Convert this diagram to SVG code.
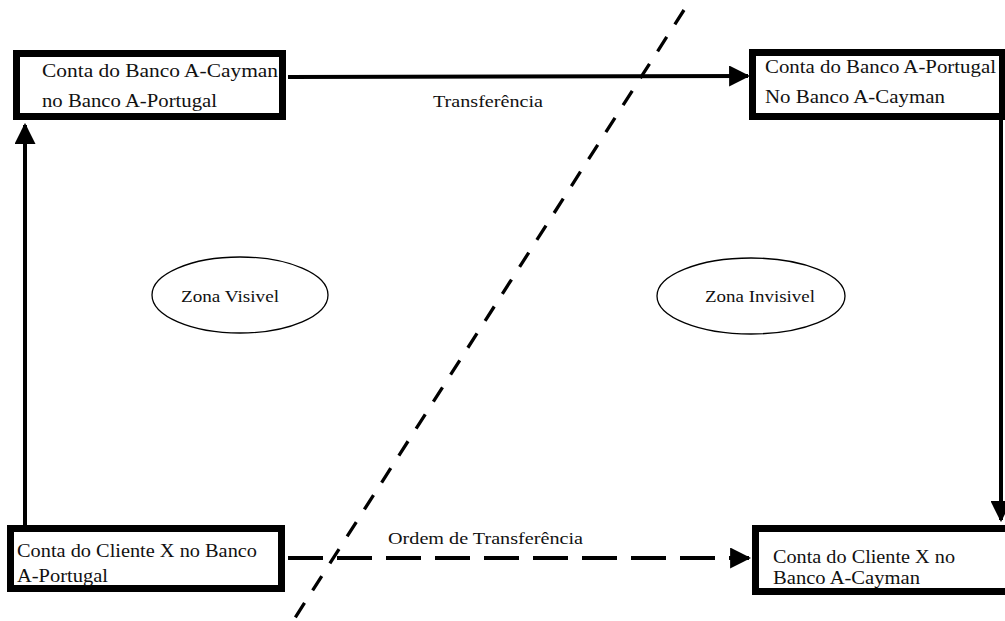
<svg xmlns="http://www.w3.org/2000/svg" width="1005" height="621" viewBox="0 0 1005 621">
  <defs>
    <marker id="head" viewBox="0 0 20 20" refX="18" refY="10" markerWidth="21" markerHeight="21" markerUnits="userSpaceOnUse" orient="auto">
      <path d="M0,0 L20,10 L0,20 Z" fill="#000"/>
    </marker>
    <style>
      .box { fill: #fff; stroke: #000; stroke-width: 7; }
      .zone { fill: none; stroke: #000; stroke-width: 1.3; }
      .t { font-family: "Liberation Serif", "Times New Roman", serif; font-size: 18.5px; fill: #111; }
      .s { font-family: "Liberation Serif", "Times New Roman", serif; font-size: 17px; fill: #111; }
      .solid { stroke: #000; stroke-width: 4; fill: none; }
      .dashed { stroke: #000; stroke-width: 4; fill: none; stroke-dasharray: 35 14; }
      .divider { stroke: #000; stroke-width: 3.3; fill: none; stroke-dasharray: 17 15; }
    </style>
  </defs>
  <rect width="1005" height="621" fill="#fff"/>

  <!-- connectors -->
  <g id="connectors">
    <line class="solid" x1="288" y1="77" x2="748" y2="76" marker-end="url(#head)"/>
    <line class="solid" x1="25" y1="525" x2="25" y2="125" marker-end="url(#head)"/>
    <line class="solid" x1="1001" y1="120" x2="1001" y2="520" marker-end="url(#head)"/>
    <line class="dashed" x1="288" y1="558" x2="749" y2="558" marker-end="url(#head)"/>
    <text class="s" x="433" y="107" textLength="110" lengthAdjust="spacingAndGlyphs">Transferência</text>
    <text class="s" x="388" y="544" textLength="195" lengthAdjust="spacingAndGlyphs">Ordem de Transferência</text>
  </g>

  <!-- boundary between the two zones -->
  <line id="divider" class="divider" x1="684" y1="10" x2="293" y2="621"/>

  <g id="zona-visivel">
    <ellipse class="zone" cx="240" cy="295" rx="88" ry="38"/>
    <text class="s" x="181" y="302" textLength="98" lengthAdjust="spacingAndGlyphs">Zona Visivel</text>
  </g>
  <g id="zona-invisivel">
    <ellipse class="zone" cx="751" cy="296" rx="94" ry="38"/>
    <text class="s" x="705" y="302" textLength="110" lengthAdjust="spacingAndGlyphs">Zona Invisivel</text>
  </g>

  <g id="conta-cayman-portugal">
    <rect class="box" x="16.5" y="53.5" width="266" height="63"/>
    <text class="t" x="42" y="77" textLength="236" lengthAdjust="spacingAndGlyphs">Conta do Banco A-Cayman</text>
    <text class="t" x="42" y="107" textLength="175" lengthAdjust="spacingAndGlyphs">no Banco A-Portugal</text>
  </g>

  <g id="conta-portugal-cayman">
    <rect class="box" x="752.5" y="52.5" width="250" height="64"/>
    <text class="t" x="765" y="73" textLength="231" lengthAdjust="spacingAndGlyphs">Conta do Banco A-Portugal</text>
    <text class="t" x="765" y="103" textLength="180" lengthAdjust="spacingAndGlyphs">No Banco A-Cayman</text>
  </g>

  <g id="cliente-portugal">
    <rect class="box" x="10.5" y="528.5" width="271" height="60"/>
    <text class="t" x="17" y="557" textLength="240" lengthAdjust="spacingAndGlyphs">Conta do Cliente X no Banco</text>
    <text class="t" x="17" y="582" textLength="91" lengthAdjust="spacingAndGlyphs">A-Portugal</text>
  </g>

  <g id="cliente-cayman">
    <rect class="box" x="755.5" y="528.5" width="260" height="63"/>
    <text class="t" x="773" y="563" textLength="182" lengthAdjust="spacingAndGlyphs">Conta do Cliente X no</text>
    <text class="t" x="773" y="584" textLength="147" lengthAdjust="spacingAndGlyphs">Banco A-Cayman</text>
  </g>
</svg>
